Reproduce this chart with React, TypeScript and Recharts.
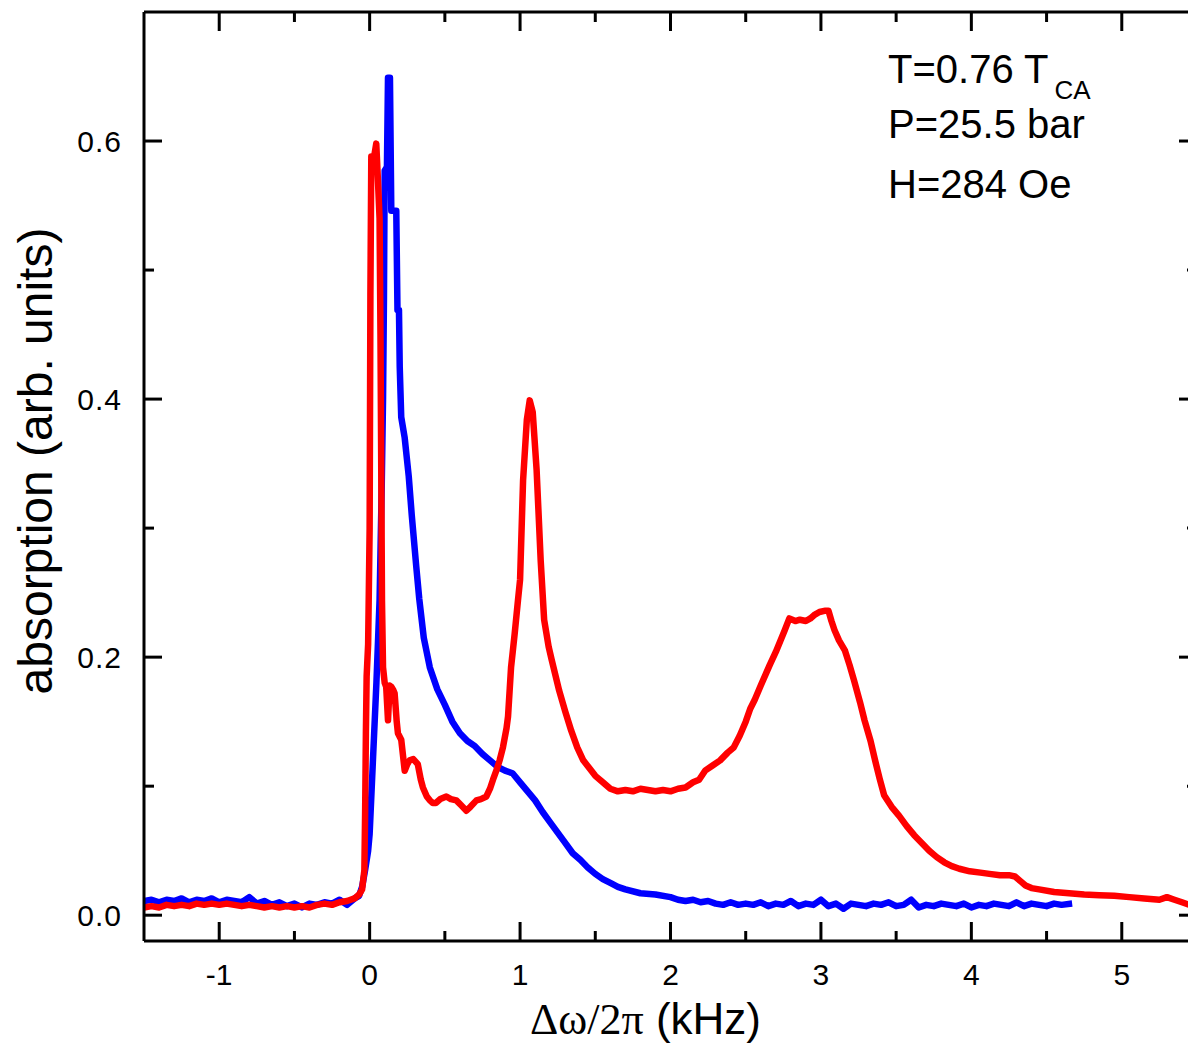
import React from "react";
import { LineChart, Line, XAxis, YAxis } from "recharts";

// blue trace: [kHz, absorption]
const blueX = [
  -1.5, -1.45, -1.4, -1.35, -1.3, -1.25, -1.2, -1.15, -1.1, -1.05, -1.0, -0.95, -0.9, -0.85, -0.8, -0.75,
  -0.7, -0.65, -0.6, -0.55, -0.5, -0.45, -0.4, -0.35, -0.3, -0.25, -0.2, -0.15, -0.1, -0.07, -0.05, -0.03,
  -0.01, 0.0, 0.02, 0.045, 0.066, 0.08, 0.089, 0.095, 0.1, 0.115, 0.122, 0.135, 0.144, 0.16, 0.177, 0.185,
  0.195, 0.2, 0.21, 0.233, 0.26, 0.28, 0.31, 0.33, 0.36, 0.4, 0.45, 0.5, 0.55, 0.6, 0.65, 0.7, 0.75, 0.8,
  0.85, 0.9, 0.95, 1.0, 1.05, 1.1, 1.15, 1.2, 1.25, 1.3, 1.35, 1.4, 1.45, 1.5, 1.55, 1.6, 1.65, 1.7, 1.8,
  1.9, 2.0, 2.05, 2.1, 2.15, 2.2, 2.25, 2.3, 2.35, 2.4, 2.45, 2.5, 2.55, 2.6, 2.65, 2.7, 2.75, 2.8, 2.85,
  2.9, 2.95, 3.0, 3.05, 3.1, 3.15, 3.2, 3.25, 3.3, 3.35, 3.4, 3.45, 3.5, 3.55, 3.6, 3.65, 3.7, 3.75, 3.8,
  3.85, 3.9, 3.95, 4.0, 4.05, 4.1, 4.15, 4.2, 4.25, 4.3, 4.35, 4.4, 4.45, 4.5, 4.55, 4.6, 4.67,
];
const blueY = [
  0.011, 0.012, 0.01, 0.012, 0.011, 0.013, 0.01, 0.012, 0.011, 0.013, 0.01, 0.012, 0.011, 0.01, 0.014, 0.009,
  0.011, 0.008, 0.01, 0.007, 0.009, 0.006, 0.009, 0.008, 0.01, 0.009, 0.012, 0.008, 0.013, 0.015, 0.022, 0.035,
  0.05, 0.063, 0.115, 0.18, 0.244, 0.33, 0.4, 0.477, 0.577, 0.58, 0.649, 0.649, 0.546, 0.546, 0.546, 0.469,
  0.469, 0.425, 0.386, 0.37, 0.34, 0.31, 0.27, 0.245, 0.215, 0.192, 0.175, 0.163, 0.15, 0.141, 0.135, 0.131, 0.125, 0.12,
  0.115, 0.112, 0.11, 0.103, 0.096, 0.089, 0.08, 0.072, 0.064, 0.056, 0.048, 0.043, 0.037, 0.032, 0.028, 0.025, 0.022, 0.02, 0.017,
  0.016, 0.014, 0.012, 0.011, 0.012, 0.01, 0.011, 0.009, 0.008, 0.01, 0.008, 0.009, 0.008, 0.01, 0.007, 0.009, 0.008, 0.011, 0.007,
  0.009, 0.008, 0.012, 0.007, 0.009, 0.005, 0.009, 0.008, 0.007, 0.009, 0.008, 0.01, 0.007, 0.008, 0.012, 0.006, 0.008, 0.007, 0.009,
  0.008, 0.007, 0.009, 0.006, 0.008, 0.007, 0.009, 0.008, 0.007, 0.01, 0.007, 0.009, 0.008, 0.007, 0.009, 0.008, 0.009,
];

// red trace: [kHz, absorption]
const redX = [
  -1.5, -1.45, -1.4, -1.35, -1.3, -1.25, -1.2, -1.15, -1.1, -1.05, -1.0, -0.95, -0.9, -0.85, -0.8, -0.75,
  -0.7, -0.65, -0.6, -0.55, -0.5, -0.45, -0.4, -0.35, -0.3, -0.25, -0.2, -0.15, -0.1, -0.07, -0.05, -0.035,
  -0.03, -0.025, -0.02, -0.01, 0.0, 0.005, 0.011, 0.03, 0.044, 0.055, 0.066, 0.072, 0.078, 0.082, 0.089, 0.1,
  0.11, 0.122, 0.133, 0.144, 0.155, 0.166, 0.18, 0.188, 0.21, 0.233, 0.25, 0.266, 0.29, 0.32, 0.34, 0.354,
  0.38, 0.4, 0.42, 0.44, 0.47, 0.51, 0.54, 0.576, 0.61, 0.643, 0.67, 0.71, 0.74, 0.776, 0.8, 0.82, 0.845,
  0.864, 0.886, 0.91, 0.92, 0.94, 0.964, 0.986, 1.0, 1.02, 1.045, 1.064, 1.084, 1.11, 1.137, 1.16, 1.19,
  1.21, 1.26, 1.3, 1.34, 1.38, 1.42, 1.46, 1.5, 1.55, 1.6, 1.65, 1.7, 1.75, 1.8, 1.85, 1.9, 1.95, 2.0,
  2.05, 2.1, 2.15, 2.19, 2.23, 2.28, 2.33, 2.38, 2.42, 2.46, 2.5, 2.53, 2.56, 2.6, 2.66, 2.7, 2.76, 2.79,
  2.83, 2.86, 2.9, 2.93, 2.96, 2.99, 3.03, 3.05, 3.07, 3.09, 3.12, 3.16, 3.19, 3.22, 3.26, 3.29, 3.33,
  3.36, 3.39, 3.42, 3.47, 3.52, 3.57, 3.62, 3.67, 3.72, 3.77, 3.82, 3.87, 3.92, 3.99, 4.06, 4.12, 4.19,
  4.25, 4.29, 4.33, 4.36, 4.4, 4.45, 4.55, 4.65, 4.75, 4.85, 4.95, 5.05, 5.15, 5.25, 5.3, 5.35, 5.4, 5.45, 5.5,
];
const redY = [
  0.006, 0.007, 0.006, 0.008, 0.007, 0.008, 0.007, 0.009, 0.008, 0.009, 0.008, 0.009, 0.008, 0.007, 0.008, 0.007,
  0.006, 0.007, 0.006, 0.007, 0.006, 0.007, 0.006, 0.008, 0.009, 0.008, 0.01, 0.011, 0.013, 0.016, 0.02, 0.035,
  0.08, 0.14, 0.185, 0.21, 0.3, 0.48, 0.588, 0.588, 0.598, 0.57, 0.54, 0.45, 0.33, 0.244, 0.192, 0.18,
  0.177, 0.151, 0.178, 0.177, 0.175, 0.172, 0.15, 0.141, 0.136, 0.112, 0.117, 0.12, 0.121, 0.117, 0.105, 0.099,
  0.092, 0.089, 0.087, 0.087, 0.09, 0.092, 0.09, 0.089, 0.085, 0.081, 0.084, 0.089, 0.09, 0.092, 0.098, 0.105, 0.113,
  0.12, 0.13, 0.145, 0.154, 0.192, 0.218, 0.244, 0.26, 0.337, 0.384, 0.399, 0.39, 0.345, 0.275, 0.229, 0.208,
  0.198, 0.174, 0.158, 0.143, 0.13, 0.12, 0.114, 0.108, 0.103, 0.098, 0.096, 0.097, 0.096, 0.098, 0.097, 0.096, 0.097, 0.096,
  0.098, 0.099, 0.103, 0.105, 0.112, 0.116, 0.12, 0.126, 0.13, 0.139, 0.15, 0.16, 0.167, 0.178, 0.194, 0.204, 0.221, 0.23,
  0.228, 0.229, 0.228, 0.23, 0.233, 0.235, 0.236, 0.236, 0.228, 0.221, 0.213, 0.205, 0.194, 0.182, 0.165, 0.151, 0.135,
  0.12, 0.106, 0.093, 0.084, 0.077, 0.069, 0.062, 0.056, 0.05, 0.045, 0.041, 0.038, 0.036, 0.034, 0.033, 0.032, 0.031,
  0.031, 0.03, 0.026, 0.023, 0.021, 0.02, 0.018, 0.017, 0.016, 0.0155, 0.015, 0.014, 0.013, 0.012, 0.014, 0.012, 0.01, 0.008, 0.007,
];

const xTicks = [-1, -0.5, 0, 0.5, 1, 1.5, 2, 2.5, 3, 3.5, 4, 4.5, 5];
const xMajor = [-1, 0, 1, 2, 3, 4, 5];
const yTicks = [0, 0.1, 0.2, 0.3, 0.4, 0.5, 0.6];
const yMajor = [0, 0.2, 0.4, 0.6];

const blueData = blueX.map((x, i) => ({ x, y: blueY[i] }));
const redData = redX.map((x, i) => ({ x, y: redY[i] }));

const sans = "'Liberation Sans', Arial, sans-serif";
const serif = "'Liberation Serif', 'Times New Roman', serif";

const BottomTick = ({ x, y, payload }: any) => {
  const major = xMajor.includes(payload.value);
  return (
    <g>
      <line x1={x} x2={x} y1={y} y2={y - (major ? 19 : 10)} stroke="#000" strokeWidth={3} />
      {major && (
        <text x={x} y={y + 44} textAnchor="middle" fontFamily={sans} fontSize={30} fill="#000">
          {payload.value}
        </text>
      )}
    </g>
  );
};

const TopTick = ({ x, y, payload }: any) => {
  const major = xMajor.includes(payload.value);
  return <line x1={x} x2={x} y1={y} y2={y + (major ? 19 : 10)} stroke="#000" strokeWidth={3} />;
};

const LeftTick = ({ x, y, payload }: any) => {
  const major = yMajor.includes(payload.value);
  return (
    <g>
      <line x1={x} x2={x + (major ? 18 : 10)} y1={y} y2={y} stroke="#000" strokeWidth={3} />
      {major && (
        <text x={x - 22} y={y + 11} textAnchor="end" fontFamily={sans} fontSize={30} fill="#000" letterSpacing={1}>
          {payload.value.toFixed(1)}
        </text>
      )}
    </g>
  );
};

const RightTick = ({ x, y, payload }: any) => {
  const major = yMajor.includes(payload.value);
  return <line x1={x} x2={x - (major ? 18 : 10)} y1={y} y2={y} stroke="#000" strokeWidth={3} />;
};

export default function App() {
  return (
    <div
      style={{
        position: "absolute",
        left: 0,
        top: 0,
        width: 1188,
        height: 1047,
        overflow: "hidden",
        background: "#fff",
      }}
    >
      <LineChart width={1215} height={1047} margin={{ top: 11, right: 17, bottom: 0, left: 0 }}>
        <XAxis
          xAxisId="b"
          dataKey="x"
          type="number"
          domain={[-1.5, 5.5]}
          ticks={xTicks}
          interval={0}
          allowDataOverflow
          height={106}
          tickSize={0}
          tickMargin={0}
          tickLine={false}
          tick={<BottomTick />}
          axisLine={{ stroke: "#000", strokeWidth: 3 }}
        />
        <XAxis
          xAxisId="t"
          orientation="top"
          dataKey="x"
          type="number"
          domain={[-1.5, 5.5]}
          ticks={xTicks}
          interval={0}
          allowDataOverflow
          height={1}
          tickSize={0}
          tickMargin={0}
          tickLine={false}
          tick={<TopTick />}
          axisLine={{ stroke: "#000", strokeWidth: 3 }}
        />
        <YAxis
          yAxisId="l"
          type="number"
          domain={[-0.02, 0.7]}
          ticks={yTicks}
          interval={0}
          allowDataOverflow
          width={144}
          tickSize={0}
          tickMargin={0}
          tickLine={false}
          tick={<LeftTick />}
          axisLine={{ stroke: "#000", strokeWidth: 3 }}
        />
        <YAxis
          yAxisId="r"
          orientation="right"
          type="number"
          domain={[-0.02, 0.7]}
          ticks={yTicks}
          interval={0}
          allowDataOverflow
          width={1}
          tickSize={0}
          tickMargin={0}
          tickLine={false}
          tick={<RightTick />}
          axisLine={{ stroke: "#000", strokeWidth: 3 }}
        />
        {/* invisible series so the top and right frame axes get drawn */}
        <Line
          xAxisId="t"
          yAxisId="r"
          data={redData}
          dataKey="y"
          stroke="none"
          dot={false}
          activeDot={false}
          isAnimationActive={false}
        />
        <Line
          xAxisId="b"
          yAxisId="l"
          data={blueData}
          dataKey="y"
          type="linear"
          stroke="#0000ff"
          strokeWidth={6.5}
          strokeLinejoin="round"
          dot={false}
          activeDot={false}
          isAnimationActive={false}
        />
        <Line
          xAxisId="b"
          yAxisId="l"
          data={redData}
          dataKey="y"
          type="linear"
          stroke="#ff0000"
          strokeWidth={6.5}
          strokeLinejoin="round"
          dot={false}
          activeDot={false}
          isAnimationActive={false}
        />
      </LineChart>
      <svg width={1188} height={1047} style={{ position: "absolute", left: 0, top: 0, pointerEvents: "none" }}>
        <text transform="translate(52,461) rotate(-90)" textAnchor="middle" fontFamily={sans} fontSize={48} fill="#000">
          absorption (arb. units)
        </text>
        <text x={530} y={1034} fontSize={44} fill="#000">
          <tspan fontFamily={serif}>Δω/2π</tspan>
          <tspan fontFamily={sans}> (kHz)</tspan>
        </text>
        <g fontFamily={sans} fontSize={40} fill="#000">
          <text x={888} y={83}>
            T=0.76 T
            <tspan fontSize={26} dx={6} dy={16}>
              CA
            </tspan>
          </text>
          <text x={888} y={138}>P=25.5 bar</text>
          <text x={888} y={198}>H=284 Oe</text>
        </g>
      </svg>
    </div>
  );
}
